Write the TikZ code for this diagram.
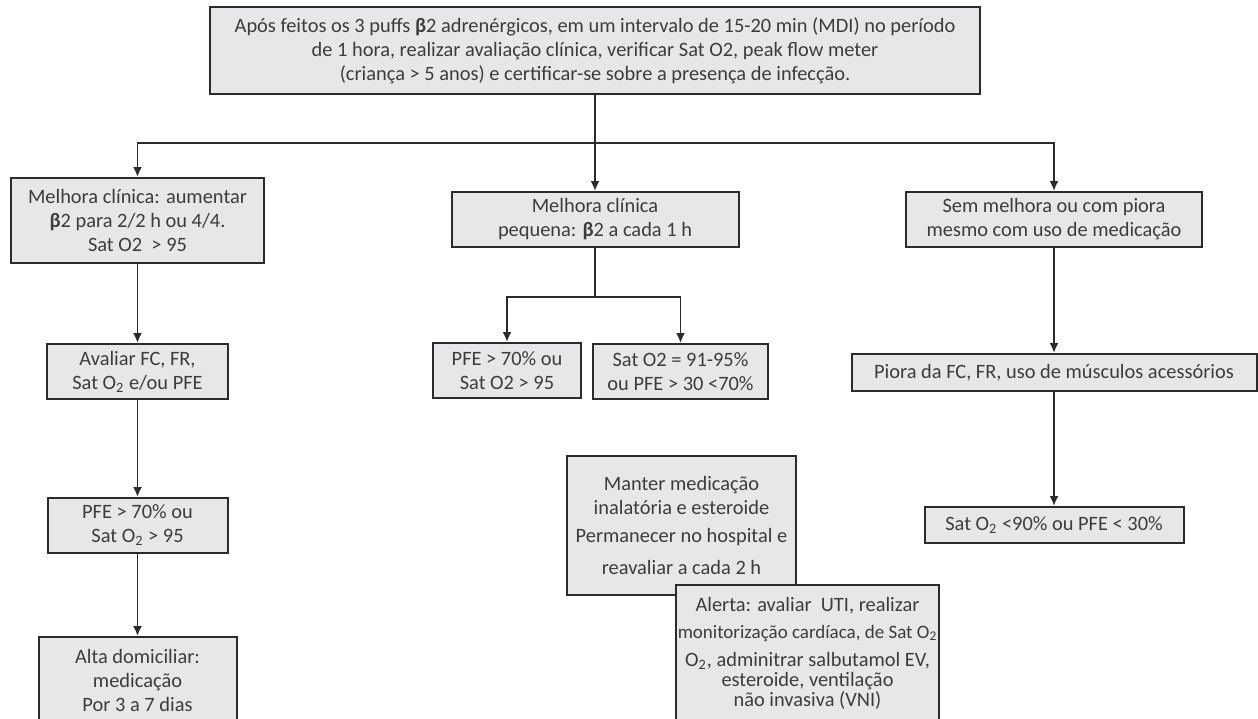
\documentclass[tikz,border=0pt]{standalone}
\usepackage{fontspec}
\setmainfont{Carlito}
\usetikzlibrary{arrows.meta,positioning}

\definecolor{boxfill}{HTML}{E6E7E8}
\definecolor{boxline}{HTML}{2B2B2B}
\definecolor{boxtext}{HTML}{3C3C3C}

\begin{document}
\begin{tikzpicture}[x=0.5pt,y=-0.5pt,font=\fontsize{10.2}{12}\selectfont]
    \useasboundingbox (0,0) rectangle (1258,718);

    %Boxes
     \begin{scope}[every node/.style={rectangle,draw=boxline,line width=1pt,fill=boxfill,
        text=boxtext,align=center,inner sep=1pt}]
       \node[minimum width=385pt,minimum height=43.5pt] (inicio) at (595,50.5)
         {Após feitos os 3 puffs \textbf{β}2 adrenérgicos, em um intervalo de 15-20 min (MDI) no período\\
          de 1 hora, realizar avaliação clínica, verificar Sat O2, peak flow meter\\
          (criança > 5 anos) e certificar-se sobre a presença de infecção.};
       % left column
       \node[minimum width=126.5pt,minimum height=42.5pt] (melhora) at (137.5,220.5)
         {Melhora clínica: aumentar\\ \textbf{β}2 para 2/2 h ou 4/4.\\ Sat O2~~> 95};
       \node[minimum width=90.5pt,minimum height=27.5pt] (avaliar) at (137.5,371.5)
         {Avaliar FC, FR,\\ Sat O\textsubscript{2} e/ou PFE};
       \node[minimum width=90pt,minimum height=27.5pt] (pfe) at (137.5,525.5)
         {PFE > 70\% ou\\ Sat O\textsubscript{2} > 95};
       \node[minimum width=99pt,minimum height=43pt] (alta) at (137.5,680)
         {Alta domiciliar:\\ medicação\\ Por 3 a 7 dias};
       % middle column
       \node[minimum width=143.5pt,minimum height=27.5pt] (pequena) at (595,219.5)
         {Melhora clínica\\ pequena: \textbf{β}2 a cada 1 h};
       \node[minimum width=74pt,minimum height=27.5pt] (pfeb) at (507,370.5)
         {PFE > 70\% ou\\ Sat O2 > 95};
       \node[minimum width=87.5pt,minimum height=27.5pt] (satb) at (680.5,371.5)
         {Sat O2 = 91-95\%\\ ou PFE > 30 <70\%};
       \node[minimum width=114.5pt,minimum height=69.5pt] (manter) at (681.5,525.5)
         {Manter medicação\\ inalatória e esteroide\\[2pt] Permanecer no hospital e\\[4pt] reavaliar a cada 2 h};
       \node[minimum width=128.5pt,minimum height=68pt] (alerta) at (807.5,653)
         {Alerta: avaliar~~UTI, realizar\\[1.5pt]
          {\fontsize{9.5}{12}\selectfont monitorização cardíaca, de Sat O\textsubscript{2}}\\[2pt]
          O\textsubscript{2}, adminitrar salbutamol EV,\\[-2pt] esteroide, ventilação\\[-2pt] não invasiva (VNI)};
       % right column
       \node[minimum width=148pt,minimum height=27.5pt] (semmelhora) at (1054,219.5)
         {Sem melhora ou com piora\\ mesmo com uso de medicação};
       \node[minimum width=202.5pt,minimum height=18.5pt] (piora) at (1054,372.5)
         {Piora da FC, FR, uso de músculos acessórios};
       \node[minimum width=129.5pt,minimum height=18pt] (satc) at (1054,525)
         {Sat O\textsubscript{2} <90\% ou PFE < 30\%};
    \end{scope}

    \coordinate (split) at (595,143);
    \coordinate (splitb) at (595,297);

    %Arrows
    \begin{scope}[every edge/.style={draw,line width=0.9pt,boxline,-{Latex[length=5pt,width=4.5pt]}},
       elbow/.style={to path={-| (\tikztotarget)}}]
      \path (inicio) edge[-] (split);
      \path (split) edge[elbow] (melhora);
      \path (split) edge (pequena);
      \path (split) edge[elbow] (semmelhora);
      \path (melhora) edge (avaliar);
      \path (avaliar) edge (pfe);
      \path (pfe) edge (alta);
      \path (pequena) edge[-] (splitb);
      \path (splitb) edge[elbow] (pfeb);
      \path (splitb) edge[elbow] (satb);
      \path (semmelhora) edge (piora);
      \path (piora) edge (satc);
    \end{scope}
  \end{tikzpicture}
\end{document}
